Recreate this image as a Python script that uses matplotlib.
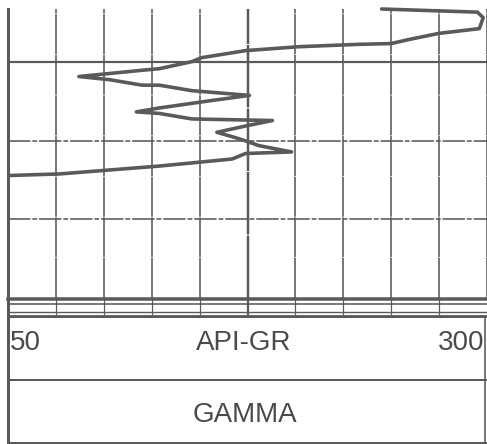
import matplotlib
matplotlib.use('Agg')
import matplotlib.pyplot as plt
from matplotlib.lines import Line2D

# gamma ray curve (API units vs depth, ft)
gr_api = [245, 295, 298, 296, 275, 259, 250, 233, 202, 174, 151, 146, 129, 120,
          87, 103, 120, 129, 146, 176, 155, 129, 117, 129, 146, 188, 174, 159,
          169, 174, 181, 198, 174, 167, 129, 77, 51]
depth_ft = [93.2, 93.6, 94.3, 95.7, 96.3, 97.1, 97.6, 97.7, 98.0, 98.5, 99.4,
            99.9, 100.8, 101.0, 101.8, 102.2, 102.9, 102.9, 103.6, 104.2, 104.9,
            105.8, 106.3, 106.5, 107.2, 107.4, 108.1, 108.9, 109.6, 110.0, 110.6,
            111.4, 111.6, 112.3, 113.2, 114.2, 114.4]

scale_min, scale_max = 50, 300
scale_step = 25
depth_lines = [100, 110, 120, 130]
track_label = 'API-GR'
curve_name = 'GAMMA'

INK = '#5a5a5a'
W, H = 487, 444


def fx(px):
    return px / W


def fy(py):
    return 1 - py / H


def pt(px):
    return px * 0.72


fig = plt.figure(figsize=(W / 100, H / 100), dpi=100)
fig.patch.set_facecolor('white')

# track axes: x 8..487 px, y 9..298 px
ax = fig.add_axes([fx(8), fy(298), fx(487) - fx(8), fy(9) - fy(298)])
ax.set_xlim(scale_min, scale_max)
ax.set_ylim(130, 93.2)
ax.set_xticks([])
ax.set_yticks([])
for s in ['top', 'right', 'bottom']:
    ax.spines[s].set_visible(False)
ax.spines['left'].set_color(INK)
ax.spines['left'].set_linewidth(pt(3))

# vertical grid
for v in range(scale_min + scale_step, scale_max + 1, scale_step):
    lw = pt(2.5) if v == 175 else pt(1.6)
    ax.axvline(v, color=INK, lw=lw, ls=(0, (25, 0.4)), zorder=1)

# depth lines
ax.axhline(depth_lines[0], color=INK, lw=pt(2.2), zorder=1)
for d in depth_lines[1:3]:
    ax.axhline(d, color=INK, lw=pt(1.6), ls=(0, (14, 1.2, 3, 1.2)), zorder=1)

ax.plot(gr_api, depth_ft, color=INK, lw=pt(3.6), solid_joinstyle='round',
        solid_capstyle='round', clip_on=False, zorder=3)

# bottom band of lines under the track
def hline(py, lw, x0=8, x1=487, ls='-'):
    fig.add_artist(Line2D([fx(x0), fx(x1)], [fy(py), fy(py)], color=INK,
                          lw=pt(lw), ls=ls, transform=fig.transFigure))


def vline(px, y0, y1, lw):
    fig.add_artist(Line2D([fx(px), fx(px)], [fy(y0), fy(y1)], color=INK,
                          lw=pt(lw), transform=fig.transFigure))


hline(298.5, 3.5)
hline(304, 1.6)
hline(312, 1.4)
hline(315.5, 1.8)
for k in range(1, 10):
    vline(8 + k * 47.9, 298, 316, 1.2 if k != 5 else 2.2)

# header box
hline(317, 2)
hline(380, 2)
hline(443, 2)
vline(8, 9, 444, 3)
vline(485, 316, 444, 1.6)

font = dict(family=['Liberation Sans', 'DejaVu Sans'], size=20, color='#4a4a4a')
fig.text(fx(10), fy(343), str(scale_min), ha='left', va='center', **font)
fig.text(fx(484), fy(343), str(scale_max), ha='right', va='center', **font)
fig.text(fx(244), fy(343), track_label, ha='center', va='center', **font)
fig.text(fx(245), fy(415), curve_name, ha='center', va='center', **font)

fig.savefig('out.png', dpi=100, facecolor='white')
